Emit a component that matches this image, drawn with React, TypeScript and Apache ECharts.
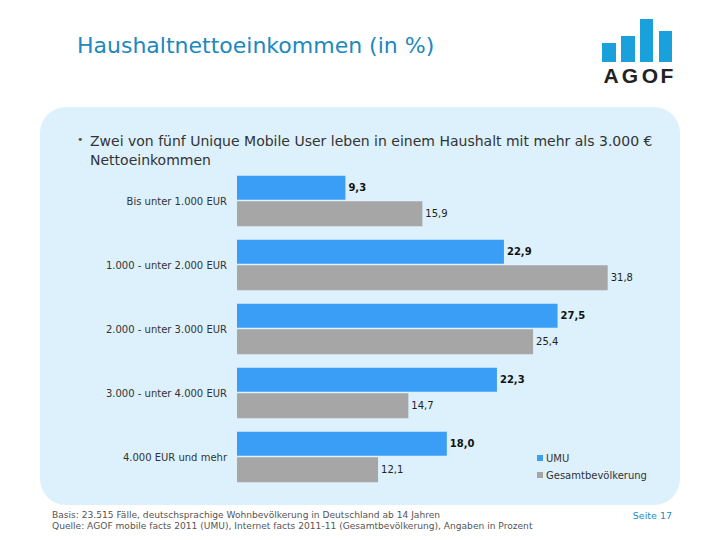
import React, { useEffect, useRef } from "react";
import * as echarts from "echarts";

const categories = [
  "Bis unter 1.000 EUR",
  "1.000 - unter 2.000 EUR",
  "2.000 - unter 3.000 EUR",
  "3.000 - unter 4.000 EUR",
  "4.000 EUR und mehr",
];
const umu = [9.3, 22.9, 27.5, 22.3, 18.0];
const gesamt = [15.9, 31.8, 25.4, 14.7, 12.1];
const seriesNames = ["UMU", "Gesamtbevölkerung"];

const FONT = "DejaVu Sans";

export default function App() {
  const ref = useRef<HTMLDivElement>(null);
  useEffect(() => {
    if (!ref.current) return;
    const chart = echarts.init(ref.current, null, { renderer: "svg" });
    const fmt = (p: any) => Number(p.value).toFixed(1).replace(".", ",");
    const logoLetter = (ch: string, x: number) => ({
      type: "text",
      x,
      y: 65,
      style: {
        text: ch,
        fontFamily: "Liberation Sans",
        fontWeight: "bold",
        fontSize: 21,
        fill: "#222222",
        textAlign: "center",
        textVerticalAlign: "top",
      },
    });
    chart.setOption({
      animation: false,
      backgroundColor: "#ffffff",
      title: {
        text: "Haushaltnettoeinkommen (in %)",
        left: 72,
        top: 29,
        textStyle: { fontFamily: FONT, fontSize: 22, fontWeight: "normal", color: "#2088bd" },
      },
      graphic: [
        {
          type: "rect",
          z: -10,
          shape: { x: 40, y: 107, width: 640, height: 398, r: 26 },
          style: { fill: "#ddf1fc" },
        },
        { type: "rect", shape: { x: 602, y: 43, width: 14, height: 19 }, style: { fill: "#1aa0da" } },
        { type: "rect", shape: { x: 621, y: 36, width: 14, height: 26 }, style: { fill: "#1aa0da" } },
        { type: "rect", shape: { x: 640, y: 19, width: 13, height: 43 }, style: { fill: "#1aa0da" } },
        { type: "rect", shape: { x: 659, y: 31, width: 13, height: 31 }, style: { fill: "#1aa0da" } },
        logoLetter("A", 611),
        logoLetter("G", 630),
        logoLetter("O", 650),
        logoLetter("F", 667),
        {
          type: "text",
          x: 77,
          y: 134,
          style: {
            text: "•",
            fontFamily: FONT,
            fontSize: 11,
            fill: "#555555",
          },
        },
        {
          type: "text",
          x: 90,
          y: 131,
          style: {
            text: "Zwei von fünf Unique Mobile User leben in einem Haushalt mit mehr als 3.000 €\nNettoeinkommen",
            fontFamily: FONT,
            fontSize: 14,
            lineHeight: 19,
            fill: "#333333",
          },
        },
        {
          type: "text",
          x: 52,
          y: 509,
          style: {
            text:
              "Basis: 23.515 Fälle, deutschsprachige Wohnbevölkerung in Deutschland ab 14 Jahren\nQuelle: AGOF mobile facts 2011 (UMU), Internet facts 2011-11 (Gesamtbevölkerung), Angaben in Prozent",
            fontFamily: FONT,
            fontSize: 9.1,
            lineHeight: 11,
            fill: "#555555",
          },
        },
        {
          type: "text",
          x: 672,
          y: 510,
          style: {
            text: "Seite 17",
            fontFamily: FONT,
            fontSize: 9.5,
            fill: "#1f8cc0",
            textAlign: "right",
          },
        },
      ],
      legend: {
        orient: "vertical",
        left: 532,
        top: 448,
        itemGap: 7,
        itemWidth: 6,
        itemHeight: 6,
        icon: "rect",
        data: seriesNames,
        textStyle: { fontFamily: FONT, fontSize: 10, color: "#333333", padding: [0, 0, 0, -2] },
      },
      grid: { left: 237, top: 169, width: 408, height: 320, containLabel: false },
      xAxis: {
        type: "value",
        min: 0,
        max: 35,
        show: false,
      },
      yAxis: {
        type: "category",
        data: categories,
        inverse: true,
        axisLine: { show: false },
        axisTick: { show: false },
        axisLabel: { fontFamily: FONT, fontSize: 10, color: "#333333", margin: 10 },
      },
      series: [
        {
          name: seriesNames[0],
          type: "bar",
          data: umu,
          barWidth: 24,
          barGap: "6%",
          barCategoryGap: "22%",
          itemStyle: { color: "#3a9ef6" },
          label: {
            show: true,
            position: "right",
            distance: 3,
            formatter: fmt,
            fontFamily: FONT,
            fontSize: 10,
            fontWeight: "bold",
            color: "#111111",
          },
        },
        {
          name: seriesNames[1],
          type: "bar",
          data: gesamt,
          barWidth: 25,
          itemStyle: { color: "#a6a6a6" },
          label: {
            show: true,
            position: "right",
            distance: 3,
            formatter: fmt,
            fontFamily: FONT,
            fontSize: 10,
            color: "#222222",
          },
        },
      ],
    });
    return () => chart.dispose();
  }, []);
  return (
    <div
      ref={ref}
      style={{ position: "fixed", left: 0, top: 0, width: 720, height: 540 }}
    />
  );
}
